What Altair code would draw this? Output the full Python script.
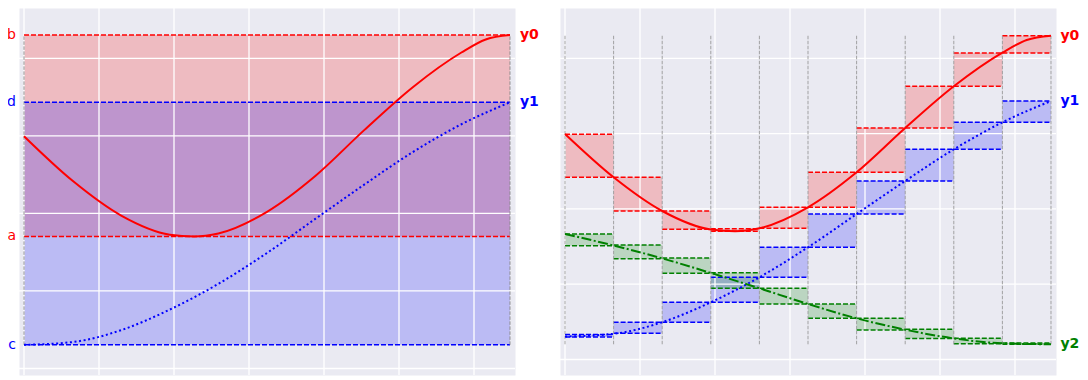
import altair as alt
import pandas as pd

# ---- data (x in grid units: vertical gridlines at integers; y in grid units: horizontal gridlines at integers)
X_END = 6.48
BIN_EDGES = [0.0, 0.648, 1.296, 1.944, 2.592, 3.24, 3.888, 4.536, 5.184, 5.832, 6.48]
GRID_X = [0, 1, 2, 3, 4, 5, 6]
GRID_Y = [0, 1, 2, 3, 4]

Y0_X = [0.0, 0.648, 1.296, 1.944, 2.268, 2.592, 3.24, 3.888, 4.536, 5.184, 5.832, 6.156, 6.48]
Y0_V = [2.995, 2.420, 1.972, 1.726, 1.703, 1.742, 2.021, 2.486, 3.074, 3.628, 4.075, 4.243, 4.300]
Y1_X = BIN_EDGES
Y1_V = [0.305, 0.341, 0.495, 0.760, 1.092, 1.490, 1.932, 2.371, 2.791, 3.150, 3.433]
Y2_X = BIN_EDGES
Y2_V = [1.667, 1.514, 1.343, 1.149, 0.946, 0.737, 0.547, 0.396, 0.280, 0.215, 0.202]

A_LEV, B_LEV, C_LEV, D_LEV = 1.703, 4.300, 0.305, 3.433

Y0_LO = [2.420, 1.972, 1.729, 1.703, 1.742, 2.021, 2.486, 3.074, 3.628, 4.070]
Y0_HI = [2.991, 2.420, 1.972, 1.737, 2.021, 2.486, 3.074, 3.628, 4.070, 4.300]
Y1_LO = [0.299, 0.348, 0.495, 0.760, 1.092, 1.490, 1.932, 2.371, 2.791, 3.150]
Y1_HI = [0.333, 0.495, 0.760, 1.092, 1.490, 1.932, 2.371, 2.791, 3.150, 3.433]
Y2_LO = [1.511, 1.339, 1.145, 0.946, 0.737, 0.547, 0.392, 0.279, 0.210, 0.202]
Y2_HI = [1.667, 1.521, 1.348, 1.153, 0.946, 0.737, 0.547, 0.401, 0.282, 0.219]

RED, BLUE, GREEN = "#ff0000", "#0000ff", "#008000"
BG = "#EAEAF2"

XS = alt.Scale(domain=[-0.0667, 6.5467], nice=False, zero=False)
YS_L = alt.Scale(domain=[-0.0838, 4.649], nice=False, zero=False)
YS_R = alt.Scale(domain=[-0.206, 4.668], nice=False, zero=False)

W, H = 496, 367
DASH = [5, 2]


def xq(f):
    return alt.X(f, type="quantitative", scale=XS, axis=None)


def yq(f, ys):
    return alt.Y(f, type="quantitative", scale=ys, axis=None)


def grid(ys):
    gx = alt.Chart(pd.DataFrame({"g": GRID_X})).mark_rule(color="white", strokeWidth=1.3).encode(x=xq("g"))
    gy = alt.Chart(pd.DataFrame({"g": GRID_Y})).mark_rule(color="white", strokeWidth=1.3).encode(y=yq("g", ys))
    return [gx, gy]


def curve(xs, vs, ys, color, dash=None, width=2, interp="monotone"):
    kw = dict(color=color, strokeWidth=width, interpolate=interp)
    if dash:
        kw["strokeDash"] = dash
    return alt.Chart(pd.DataFrame({"x": xs, "v": vs})).mark_line(**kw).encode(x=xq("x"), y=yq("v", ys))


# ---------------- left panel
bands = pd.DataFrame({"x0": [0, 0], "x1": [X_END, X_END], "lo": [A_LEV, C_LEV], "hi": [B_LEV, D_LEV], "col": [RED, BLUE]})
band_rect = alt.Chart(bands).mark_rect(opacity=0.2).encode(
    x=xq("x0"), x2="x1", y=yq("lo", YS_L), y2="hi", color=alt.Color("col:N", scale=None))
hl = pd.DataFrame({"x0": [0] * 4, "x1": [X_END] * 4, "v": [A_LEV, B_LEV, C_LEV, D_LEV], "col": [RED, RED, BLUE, BLUE]})
hl_rule = alt.Chart(hl).mark_rule(strokeDash=DASH, strokeWidth=1.5).encode(
    x=xq("x0"), x2="x1", y=yq("v", YS_L), color=alt.Color("col:N", scale=None))
vl = pd.DataFrame({"x": [0, X_END], "lo": [C_LEV, C_LEV], "hi": [B_LEV, B_LEV]})
vl_rule = alt.Chart(vl).mark_rule(color="#888888", strokeDash=[3.5, 1.5], strokeWidth=0.9).encode(
    x=xq("x"), y=yq("lo", YS_L), y2="hi")
left_lab = pd.DataFrame({"x": [0] * 4, "v": [B_LEV, D_LEV, A_LEV, C_LEV], "t": ["b", "d", "a", "c"], "col": [RED, BLUE, RED, BLUE]})
left_txt = alt.Chart(left_lab).mark_text(align="right", baseline="middle", dx=-8, fontSize=14, font="DejaVu Sans").encode(
    x=xq("x"), y=yq("v", YS_L), text="t:N", color=alt.Color("col:N", scale=None))
rl = pd.DataFrame({"x": [X_END] * 2, "v": [B_LEV, D_LEV], "t": ["y0", "y1"], "col": [RED, BLUE]})
right_txt_l = alt.Chart(rl).mark_text(align="left", baseline="middle", dx=10, fontSize=14, fontWeight="bold", font="DejaVu Sans").encode(
    x=xq("x"), y=yq("v", YS_L), text="t:N", color=alt.Color("col:N", scale=None))

left = alt.layer(
    band_rect, *grid(YS_L), hl_rule, vl_rule,
    curve(Y0_X, Y0_V, YS_L, RED),
    curve(Y1_X, Y1_V, YS_L, BLUE, [2, 2.6]),
    left_txt, right_txt_l,
).properties(width=W, height=H)

# ---------------- right panel
rows = []
for lo_arr, hi_arr, col in [(Y0_LO, Y0_HI, RED), (Y1_LO, Y1_HI, BLUE), (Y2_LO, Y2_HI, GREEN)]:
    for i in range(10):
        rows.append({"x0": BIN_EDGES[i], "x1": BIN_EDGES[i + 1], "lo": lo_arr[i], "hi": hi_arr[i], "col": col})
boxes = pd.DataFrame(rows)
box_rect = alt.Chart(boxes).mark_rect(opacity=0.2).encode(
    x=xq("x0"), x2="x1", y=yq("lo", YS_R), y2="hi", color=alt.Color("col:N", scale=None))
edges = pd.concat([boxes.assign(v=boxes["lo"]), boxes.assign(v=boxes["hi"])])
box_lines = alt.Chart(edges).mark_rule(strokeDash=DASH, strokeWidth=1.5).encode(
    x=xq("x0"), x2="x1", y=yq("v", YS_R), color=alt.Color("col:N", scale=None))
binl = pd.DataFrame({"x": BIN_EDGES, "lo": [Y2_V[-1]] * 11, "hi": [Y0_V[-1]] * 11})
bin_rule = alt.Chart(binl).mark_rule(color="#999999", strokeDash=[3.5, 1.5], strokeWidth=0.9).encode(
    x=xq("x"), y=yq("lo", YS_R), y2="hi")
rr = pd.DataFrame({"x": [X_END] * 3, "v": [Y0_V[-1], Y1_V[-1], Y2_V[-1]], "t": ["y0", "y1", "y2"], "col": [RED, BLUE, GREEN]})
right_txt_r = alt.Chart(rr).mark_text(align="left", baseline="middle", dx=9.5, fontSize=14, fontWeight="bold", font="DejaVu Sans").encode(
    x=xq("x"), y=yq("v", YS_R), text="t:N", color=alt.Color("col:N", scale=None))

right = alt.layer(
    box_rect, *grid(YS_R), box_lines, bin_rule,
    curve(Y0_X, Y0_V, YS_R, RED),
    curve(Y1_X, Y1_V, YS_R, BLUE, [2, 2.6]),
    curve(Y2_X, Y2_V, YS_R, GREEN, [10, 2.5, 2, 2.5]),
    right_txt_r,
).properties(width=W, height=H)

chart = alt.hconcat(left, right, spacing=45, bounds="flush").properties(
    padding={"left": -2, "top": -2, "right": 0, "bottom": 0}
).configure_view(fill=BG, stroke="transparent")

chart.save("out.html", embed_options={"renderer": "svg", "actions": False})
